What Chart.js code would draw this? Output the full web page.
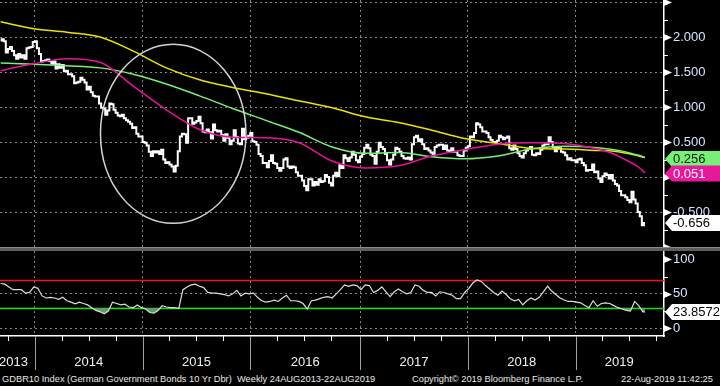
<!DOCTYPE html>
<html>
<head>
<meta charset="utf-8">
<script src="https://cdn.jsdelivr.net/npm/chart.js@4.4.1/dist/chart.umd.min.js"></script>
<style>
  html, body { margin: 0; padding: 0; background: #000; }
  #wrap { position: relative; width: 720px; height: 386px; background: #000; overflow: hidden; font-family: 'Liberation Sans', Arial, sans-serif; }
  #cMain { position: absolute; left: 0; top: 0; }
  #sep { position: absolute; left: 0; top: 247px; width: 720px; height: 4px; background: #5e5e5e; border-top: 1px solid #8a8a8a; box-sizing: border-box; }
  #cRsi { position: absolute; left: 0; top: 251px; }
  .foot { position: absolute; top: 374px; font-size: 9.3px; line-height: 10px; color: #e8e8e8; white-space: pre; }
</style>
</head>
<body>
<div id="wrap">
  <canvas id="cMain" width="720" height="247"></canvas>
  <div id="sep"></div>
  <canvas id="cRsi" width="720" height="120"></canvas>
  <div class="foot" style="left:2px">GDBR10 Index (German Government Bonds 10 Yr Dbr)  Weekly 24AUG2013-22AUG2019</div>
  <div class="foot" style="left:412px">Copyright© 2019 Bloomberg Finance L.P.</div>
  <div class="foot" style="left:621px">22-Aug-2019 11:42:25</div>
</div>
<script>
// weekly closes, first value is week 2 (6 Sep 2013), last is week 313 (23 Aug 2019)
const FIRST_WEEK = 2;
const closes = [
  1.95, 1.97, 1.94, 1.78, 1.83, 1.86, 1.80, 1.74, 1.69, 1.76, 1.71, 1.74, 1.69, 1.84, 1.85, 1.86, 1.93,
  1.94, 1.84, 1.76, 1.65, 1.66, 1.67, 1.68, 1.66, 1.62, 1.65, 1.55, 1.61, 1.56, 1.60, 1.51, 1.52, 1.47,
  1.47, 1.44, 1.34, 1.35, 1.36, 1.42, 1.39, 1.35, 1.25, 1.29, 1.21, 1.16, 1.15, 1.15, 1.05, 0.99, 0.98, 0.89,
  0.95, 1.05, 1.04, 0.96, 0.92, 0.88, 0.87, 0.89, 0.84, 0.81, 0.79, 0.76, 0.70, 0.71, 0.62, 0.58, 0.58,
  0.50, 0.49, 0.45, 0.36, 0.30, 0.37, 0.35, 0.37, 0.33, 0.39, 0.25, 0.20, 0.21, 0.18, 0.15, 0.08, 0.16,
  0.37, 0.58, 0.62, 0.61, 0.49, 0.84, 0.84, 0.76, 0.78, 0.80, 0.86, 0.77, 0.65, 0.64, 0.68, 0.64, 0.55, 0.75,
  0.67, 0.65, 0.66, 0.60, 0.52, 0.61, 0.56, 0.47, 0.52, 0.67, 0.57, 0.48, 0.47, 0.69, 0.54, 0.56, 0.59,
  0.63, 0.51, 0.50, 0.46, 0.33, 0.30, 0.20, 0.20, 0.14, 0.23, 0.31, 0.20, 0.19, 0.13, 0.09, 0.13, 0.25, 0.27,
  0.15, 0.13, 0.15, 0.14, 0.07, 0.02, 0.02, -0.05, -0.13, -0.19, -0.03, -0.03, -0.12, -0.07, -0.11, -0.03, -0.07,
  -0.06, 0.03, 0.00, -0.08, -0.12, 0.02, 0.06, 0.01, 0.17, 0.13, 0.31, 0.27, 0.23, 0.28, 0.36, 0.32, 0.24, 0.21,
  0.29, 0.33, 0.42, 0.46, 0.41, 0.32, 0.30, 0.19, 0.36, 0.49, 0.43, 0.40, 0.33, 0.24, 0.18, 0.25, 0.32,
  0.42, 0.40, 0.36, 0.30, 0.27, 0.26, 0.28, 0.25, 0.47, 0.57, 0.59, 0.51, 0.54, 0.47, 0.40, 0.41, 0.38,
  0.35, 0.31, 0.43, 0.45, 0.46, 0.46, 0.40, 0.45, 0.38, 0.36, 0.41, 0.36, 0.36, 0.31, 0.30, 0.30, 0.38, 0.42,
  0.44, 0.58, 0.57, 0.63, 0.77, 0.75, 0.71, 0.65, 0.65, 0.63, 0.57, 0.53, 0.50, 0.50, 0.52, 0.59, 0.57,
  0.54, 0.56, 0.58, 0.41, 0.39, 0.45, 0.40, 0.34, 0.30, 0.28, 0.34, 0.38, 0.40, 0.43, 0.32, 0.31, 0.34, 0.33,
  0.39, 0.45, 0.47, 0.47, 0.57, 0.50, 0.43, 0.37, 0.42, 0.41, 0.36, 0.35, 0.31, 0.25, 0.27, 0.24, 0.24,
  0.21, 0.25, 0.26, 0.20, 0.17, 0.09, 0.10, 0.10, 0.18, 0.07, 0.08, -0.02, -0.07, 0.01, 0.05, 0.03, -0.02,
  0.03, -0.05, -0.10, -0.12, -0.20, -0.26, -0.26, -0.29, -0.33, -0.36, -0.21, -0.32, -0.38, -0.50, -0.56, -0.69, -0.656
];

// moving averages, read at these weeks
const maWeeks   = [2, 18, 34, 50, 66, 82, 98, 114, 130, 146, 162, 178, 194, 210, 226, 242, 258, 274, 290, 298, 302, 306, 310, 313];
const maYellow  = [2.22, 2.12, 2.07, 2.00, 1.80, 1.56, 1.39, 1.28, 1.19, 1.09, 0.99, 0.86, 0.78, 0.67, 0.55, 0.48, 0.41, 0.40, 0.38, 0.37, 0.35, 0.33, 0.30, 0.28];
const maGreen   = [1.63, 1.61, 1.59, 1.56, 1.47, 1.33, 1.16, 0.98, 0.81, 0.64, 0.43, 0.34, 0.35, 0.29, 0.26, 0.30, 0.40, 0.44, 0.42, 0.39, 0.37, 0.34, 0.31, 0.28];
const maMagenta = [1.52, 1.62, 1.69, 1.64, 1.30, 0.96, 0.68, 0.57, 0.56, 0.49, 0.23, 0.13, 0.16, 0.30, 0.39, 0.47, 0.49, 0.48, 0.40, 0.33, 0.27, 0.21, 0.14, 0.06];

// RSI every second week from week 2, last point week 313
const rsi = [
  65, 64, 60, 56, 56, 56, 51, 52, 60, 58, 47, 44, 45, 44, 42, 45, 40, 38, 35.5, 38, 36, 34, 30, 26, 24, 21, 25, 38,
  36, 34, 35, 31, 30, 34, 30, 28, 23, 22, 26, 33, 31, 30, 30, 29, 56, 60, 63, 64, 61, 59, 52, 51, 51, 50, 49, 47,
  50, 55, 47, 51, 50, 51, 45, 40, 38, 39, 41, 39, 44, 48, 40, 40, 39, 36, 28, 40, 41, 43, 45, 46, 44, 50, 56, 63,
  61, 63, 62, 56, 63, 62, 52, 55, 60, 53, 46, 53, 57, 53, 50, 52, 63, 61, 55, 52, 52, 47, 53, 52, 50, 48, 43, 43,
  52, 58, 66, 70, 68, 62, 57, 52, 48, 54, 49, 43, 40, 42, 34, 40, 44, 41, 45, 53, 61, 54, 49, 44, 41, 39, 39, 38,
  37, 33, 30, 40, 32, 36, 37, 36, 33, 30, 28, 26, 25, 39, 33, 24, 23.8572
];
const rsiBands = [70, 30];

const tagValues = [0.256, 0.051, -0.656];
const rsiLast = 23.8572;

const yTicks = [-1, -0.75, -0.5, -0.25, 0, 0.25, 0.5, 0.75, 1, 1.25, 1.5, 1.75, 2, 2.25, 2.5];
const rsiTicks = [0, 25, 50, 75, 100];
const yearStarts = [18.5, 70.5, 122.5, 175.5, 227.5, 279.5];
const yearLabels = ['2013', '2014', '2015', '2016', '2017', '2018', '2019'];
const yearLabelWeeks = [8.2, 44.5, 96.5, 149, 201.5, 253.5, 300.6];

// circled zone: centre week / yield, half width in weeks, half height in yield
const circle = { week: 85.3, value: 0.617, dw: 35.1, dv: 1.279 };

Chart.defaults.font.family = "'Liberation Sans', Arial, sans-serif";
Chart.defaults.animation = false;
Chart.defaults.events = [];
Chart.defaults.plugins.legend.display = false;
Chart.defaults.plugins.tooltip.enabled = false;

const GRID = '#858585';
const LABEL = '#d6e4ff';
const FONT = "13px 'Liberation Sans', Arial, sans-serif";
const X_MIN = 1.7, X_MAX = 322.2;

const pts = (xs, ys) => ys.map((v, i) => ({ x: xs[i], y: v }));
const priceWeeks = closes.map((_, i) => FIRST_WEEK + i);
const rsiWeeks = rsi.map((_, i) => Math.min(FIRST_WEEK + 2 * i, 313));

function drawRightAxis(chart, majors, minors) {
  const { ctx, chartArea: a, scales: { y } } = chart;
  ctx.save();
  ctx.fillStyle = '#fff';
  ctx.strokeStyle = '#fff';
  ctx.lineWidth = 1;
  majors.forEach(v => {
    const py = Math.round(y.getPixelForValue(v)) + 0.5;
    ctx.beginPath();
    ctx.moveTo(a.right, py - 3.5);
    ctx.lineTo(a.right + 8, py);
    ctx.lineTo(a.right, py + 3.5);
    ctx.closePath();
    ctx.fill();
  });
  minors.forEach(v => {
    const py = Math.round(y.getPixelForValue(v)) + 0.5;
    ctx.beginPath();
    ctx.moveTo(a.right, py);
    ctx.lineTo(a.right + 4, py);
    ctx.stroke();
  });
  ctx.restore();
}

function drawTag(chart, v, text, bg, fg) {
  const { ctx, chartArea: a, scales: { y } } = chart;
  const py = y.getPixelForValue(v);
  const x0 = a.right + 1, h = 8;
  ctx.save();
  ctx.fillStyle = bg;
  ctx.beginPath();
  ctx.moveTo(x0, py);
  ctx.lineTo(x0 + 7, py - h);
  ctx.lineTo(chart.width, py - h);
  ctx.lineTo(chart.width, py + h);
  ctx.lineTo(x0 + 7, py + h);
  ctx.closePath();
  ctx.fill();
  ctx.fillStyle = fg;
  ctx.font = FONT;
  ctx.textBaseline = 'middle';
  ctx.fillText(text, x0 + 8, py + 0.5);
  ctx.restore();
}

const mainDeco = {
  id: 'mainDeco',
  afterDatasetsDraw(chart) {
    const { ctx, scales: { x, y } } = chart;
    const cx = x.getPixelForValue(circle.week), cy = y.getPixelForValue(circle.value);
    const rx = x.getPixelForValue(circle.week + circle.dw) - cx;
    const ry = cy - y.getPixelForValue(circle.value + circle.dv);
    ctx.save();
    ctx.strokeStyle = '#d4d4d4';
    ctx.lineWidth = 1.5;
    ctx.beginPath();
    ctx.ellipse(cx, cy, rx, ry, 0, 0, Math.PI * 2);
    ctx.stroke();
    ctx.restore();
  },
  afterDraw(chart) {
    drawRightAxis(chart, yTicks.filter(v => v % 0.5 === 0), yTicks.filter(v => v % 0.5 !== 0));
    drawTag(chart, tagValues[0], tagValues[0].toFixed(3), '#78f078', '#0a1a0a');
    drawTag(chart, tagValues[1], tagValues[1].toFixed(3), '#e8189a', '#fff');
    drawTag(chart, tagValues[2], tagValues[2].toFixed(3), '#fff', '#000');
  }
};

const rsiDeco = {
  id: 'rsiDeco',
  beforeDatasetsDraw(chart) {
    const { ctx, chartArea: a, scales: { y } } = chart;
    const cols = ['#ff1010', '#10e010'];
    ctx.save();
    ctx.lineWidth = 1.5;
    rsiBands.forEach((v, i) => {
      const py = Math.round(y.getPixelForValue(v)) + 0.5;
      ctx.strokeStyle = cols[i];
      ctx.beginPath();
      ctx.moveTo(a.left, py);
      ctx.lineTo(a.right, py);
      ctx.stroke();
    });
    ctx.restore();
  },
  afterDraw(chart) {
    const { ctx, chartArea: a, scales: { x } } = chart;
    drawRightAxis(chart, [0, 50, 100], [25, 75]);
    drawTag(chart, rsiLast, String(rsiLast), '#fff', '#000');
    ctx.save();
    ctx.lineWidth = 1;
    ctx.strokeStyle = '#a0a0a0';
    yearStarts.forEach(w => {
      const px = Math.round(x.getPixelForValue(w)) + 0.5;
      ctx.beginPath();
      ctx.moveTo(px, a.bottom);
      ctx.lineTo(px, a.bottom + 34);
      ctx.stroke();
    });
    ctx.strokeStyle = '#fff';
    const quarters = [yearStarts[0] - 13].concat(yearStarts.flatMap(w => [w + 13, w + 26, w + 39]));
    quarters.filter(w => w < X_MAX).forEach(w => {
      const px = Math.round(x.getPixelForValue(w)) + 0.5;
      ctx.beginPath();
      ctx.moveTo(px, a.bottom);
      ctx.lineTo(px, a.bottom + 5);
      ctx.stroke();
    });
    ctx.fillStyle = '#f0f0f0';
    ctx.font = FONT;
    ctx.textAlign = 'center';
    ctx.textBaseline = 'middle';
    yearLabels.forEach((t, i) => ctx.fillText(t, x.getPixelForValue(yearLabelWeeks[i]), 111.3));
    ctx.restore();
  }
};

new Chart(document.getElementById('cMain'), {
  type: 'line',
  data: {
    datasets: [
      { data: pts(maWeeks, maMagenta), borderColor: '#e8109a', borderWidth: 1.5, pointRadius: 0, cubicInterpolationMode: 'monotone' },
      { data: pts(maWeeks, maGreen), borderColor: '#78f078', borderWidth: 1.5, pointRadius: 0, cubicInterpolationMode: 'monotone' },
      { data: pts(maWeeks, maYellow), borderColor: '#ece400', borderWidth: 1.5, pointRadius: 0, cubicInterpolationMode: 'monotone' },
      { data: pts(priceWeeks, closes), borderColor: '#ffffff', borderWidth: 2, pointRadius: 0, stepped: 'middle' }
    ]
  },
  options: {
    responsive: false,
    devicePixelRatio: 1,
    layout: { padding: 0 },
    scales: {
      x: {
        type: 'linear', min: X_MIN, max: X_MAX,
        afterBuildTicks: s => { s.ticks = yearStarts.map(v => ({ value: v })); },
        afterFit: s => { s.height = 0; s.paddingLeft = 0; s.paddingRight = 0; },
        ticks: { display: false },
        grid: { color: GRID, drawTicks: false },
        border: { display: false, dash: [2, 3] }
      },
      y: {
        position: 'right', min: -1, max: 2.53,
        afterBuildTicks: s => { s.ticks = yTicks.map(v => ({ value: v })); },
        afterFit: s => { s.width = 56; s.paddingTop = 0; s.paddingBottom = 0; },
        ticks: {
          color: LABEL, font: { size: 13 }, padding: 9,
          callback: v => (v % 0.5 === 0 && v > -1 && v < 2.5) ? v.toFixed(3) : ''
        },
        grid: { color: c => (c.tick && c.tick.value % 0.5 === 0 && c.tick.value > -1) ? GRID : 'transparent', drawTicks: false },
        border: { color: '#fff', width: 1.5, dash: [2, 3] }
      }
    }
  },
  plugins: [mainDeco]
});

new Chart(document.getElementById('cRsi'), {
  type: 'line',
  data: {
    datasets: [
      {
        data: pts(rsiWeeks, rsi), borderColor: '#dcdcdc', borderWidth: 1.2, pointRadius: 0,
        fill: { target: { value: 30 }, above: 'rgba(0,0,0,0)', below: '#5c9e5c' }
      }
    ]
  },
  options: {
    responsive: false,
    devicePixelRatio: 1,
    layout: { padding: 0 },
    scales: {
      x: {
        type: 'linear', min: X_MIN, max: X_MAX,
        afterBuildTicks: s => { s.ticks = yearStarts.map(v => ({ value: v })); },
        afterFit: s => { s.height = 35; s.paddingLeft = 0; s.paddingRight = 0; },
        ticks: { display: false },
        grid: { color: GRID, drawTicks: false },
        border: { color: '#fff', width: 1.5, dash: [2, 3] }
      },
      y: {
        position: 'right', min: -11, max: 112,
        afterBuildTicks: s => { s.ticks = rsiTicks.map(v => ({ value: v })); },
        afterFit: s => { s.width = 56; s.paddingTop = 0; s.paddingBottom = 0; },
        ticks: { color: LABEL, font: { size: 13 }, padding: 9, callback: v => (v % 50 === 0) ? String(v) : '' },
        grid: { color: c => (c.tick && (c.tick.value === 0 || c.tick.value === 50)) ? GRID : 'transparent', drawTicks: false },
        border: { color: '#fff', width: 1.5, dash: [2, 3] }
      }
    }
  },
  plugins: [rsiDeco]
});
</script>
</body>
</html>
